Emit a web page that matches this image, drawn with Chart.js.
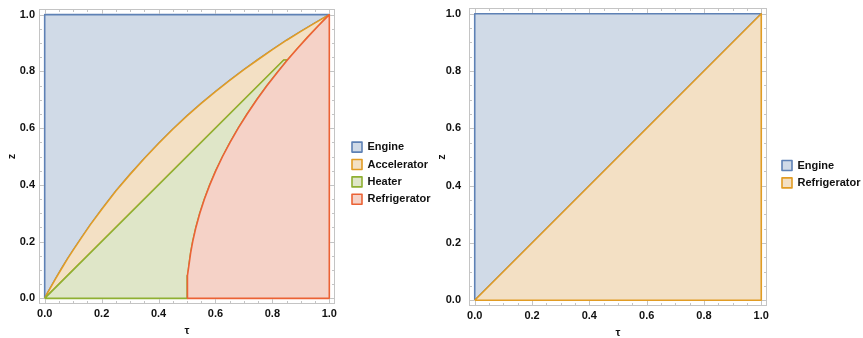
<!DOCTYPE html>
<html>
<head>
<meta charset="utf-8">
<script src="https://cdn.jsdelivr.net/npm/chart.js@4.4.1/dist/chart.umd.min.js"></script>
<style>
  html, body { margin: 0; padding: 0; background: #ffffff; }
  #c1 { position: absolute; left: 0; top: 0; }
  #c2 { position: absolute; left: 432px; top: 0; }
</style>
</head>
<body>
<canvas id="c1" width="432" height="338"></canvas>
<canvas id="c2" width="431" height="338"></canvas>
<script>
// ---------------- data ----------------
const tickValues = [0, 0.2, 0.4, 0.6, 0.8, 1.0];
const leftLabels = ['Engine', 'Accelerator', 'Heater', 'Refrigerator'];
const rightLabels = ['Engine', 'Refrigerator'];

// Left panel: upper (Accelerator/Engine) boundary curve, tau and z
const accelTau = [0, 0.01, 0.02, 0.04, 0.06, 0.08, 0.1, 0.13, 0.16, 0.2, 0.25, 0.3, 0.35, 0.4, 0.45, 0.5,
                  0.55, 0.6, 0.65, 0.7, 0.75, 0.8, 0.85, 0.9, 0.95, 1];
const accelZ   = [0, 0.019, 0.037, 0.072, 0.106, 0.139, 0.17, 0.215, 0.259, 0.313, 0.378, 0.437, 0.493, 0.546, 0.596, 0.643,
                  0.687, 0.729, 0.768, 0.806, 0.842, 0.877, 0.91, 0.941, 0.971, 1];
// Left panel: Refrigerator boundary curve, tau and z
const refrTau  = [0.5, 0.5002, 0.5013, 0.5032, 0.5072, 0.5128, 0.52, 0.5313, 0.545, 0.5613, 0.58, 0.6013, 0.625,
                  0.6513, 0.68, 0.7113, 0.745, 0.7813, 0.82, 0.8528, 0.8872, 0.9232, 0.9608, 1];
const refrZ    = [0, 0.02, 0.05, 0.08, 0.12, 0.16, 0.2, 0.25, 0.3, 0.35, 0.4, 0.45, 0.5,
                  0.55, 0.6, 0.65, 0.7, 0.75, 0.8, 0.84, 0.88, 0.92, 0.96, 1];
// Left panel: Heater diagonal ends where it meets the refrigerator curve
const heaterTip = [0.84, 0.84];
// Square corners of the (tau, z) domain
const cornerTau = [0, 0, 1, 1];
const cornerZ   = [0, 1, 1, 0];
// Right panel: dividing diagonal
const diagTau = [0, 1];
const diagZ   = [0, 1];

// ---------------- styles ----------------
const lineCol = { blue: '#5e81b5', orange: '#e19c24', green: '#8fb032', red: '#eb6235' };
const fillCol = { blue: '#d0dae7', orange: '#f3e0c4', green: '#dfe6c8', red: '#f5d2c7' };
const FONT = { family: '"Liberation Sans", Arial, sans-serif', size: 11, weight: 'bold' };

const P = (t, z) => ({ x: t, y: z });
const curve = (ts, zs) => ts.map((t, i) => P(t, zs[i]));

// ---------------- left panel polygons ----------------
const accel = curve(accelTau, accelZ);
const refr = curve(refrTau, refrZ);
const C = curve(cornerTau, cornerZ); // (0,0),(0,1),(1,1),(1,0)

const enginePoly = [C[0], C[1], C[2]].concat(accel.slice(0, -1).reverse());
const tipIdx = refrZ.indexOf(heaterTip[1]);
const accelPoly = accel.concat(refr.slice(tipIdx, -1).reverse(), [P(heaterTip[0], heaterTip[1]), C[0]]);
const heaterPoly = [C[0], P(heaterTip[0], heaterTip[1])].concat(refr.slice(0, tipIdx + 1).reverse(), [C[0]]);
const refrPoly = refr.concat([C[3], refr[0]]);

// ---------------- right panel polygons ----------------
const diag = curve(diagTau, diagZ);
const engineR = [C[0], C[1], C[2], diag[0]];
const refrR = [diag[0], diag[1], C[3], diag[0]];

function ds(label, data, col, order) {
  return {
    label, data, order,
    showLine: true, fill: 'shape', tension: 0,
    borderColor: lineCol[col], backgroundColor: fillCol[col],
    borderWidth: 1.6, pointRadius: 0, pointHoverRadius: 0,
    borderJoinStyle: 'round'
  };
}

// frame with inward ticks (Mathematica-style)
const frameTicks = {
  id: 'frameTicks',
  afterDatasetsDraw(chart) {
    const { ctx, chartArea: a, scales } = chart;
    const xs = scales.x, ys = scales.y;
    ctx.save();
    ctx.strokeStyle = '#c4c4c4';
    ctx.lineWidth = 1;
    ctx.strokeRect(a.left + 0.5, a.top + 0.5, a.width - 1, a.height - 1);
    ctx.beginPath();
    for (let k = 0; k <= 20; k++) {
      const v = k / 20;
      const len = (k % 4 === 0) ? 5 : 3;
      const px = Math.round(xs.getPixelForValue(v)) + 0.5;
      const py = Math.round(ys.getPixelForValue(v)) + 0.5;
      ctx.moveTo(px, a.bottom); ctx.lineTo(px, a.bottom - len);
      ctx.moveTo(px, a.top); ctx.lineTo(px, a.top + len);
      ctx.moveTo(a.left, py); ctx.lineTo(a.left + len, py);
      ctx.moveTo(a.right, py); ctx.lineTo(a.right - len, py);
    }
    ctx.stroke();
    ctx.restore();
  }
};

// place the legend where the reference has it
const legendPlace = {
  id: 'legendPlace',
  afterLayout(chart, args, opts) {
    const lg = chart.legend;
    if (!lg) return;
    const w = lg.right - lg.left, h = lg.bottom - lg.top;
    lg.left = opts.left; lg.right = opts.left + w;
    lg.top = opts.top; lg.bottom = opts.top + h;
  }
};

function makeChart(id, datasets, geo) {
  const cfg = {
    type: 'scatter',
    data: { datasets },
    options: {
      responsive: false,
      animation: false,
      events: [],
      layout: { padding: { left: 0, right: 10, top: geo.top, bottom: 0 } },
      plugins: {
        tooltip: { enabled: false },
        legend: {
          position: 'right',
          align: 'start',
          labels: {
            boxWidth: 10, boxHeight: 10, padding: 6.4,
            color: '#111', font: FONT,
            sort: (a, b) => a.datasetIndex - b.datasetIndex
          }
        },
        legendPlace: { left: geo.legLeft, top: geo.legTop }
      },
      scales: {
        x: {
          type: 'linear', min: -0.02, max: 1.02,
          afterBuildTicks: s => { s.ticks = tickValues.map(v => ({ value: v })); },
          afterFit: s => { s.height = geo.xh; },
          grid: { display: false, drawTicks: false },
          border: { display: false },
          ticks: { font: FONT, color: '#111', padding: 3, maxRotation: 0,
                   callback: v => Number(v).toFixed(1) },
          title: { display: true, text: 'τ', font: FONT, color: '#111', padding: { top: 0, bottom: geo.tbot } }
        },
        y: {
          type: 'linear', min: -0.02, max: 1.02,
          afterBuildTicks: s => { s.ticks = tickValues.map(v => ({ value: v })); },
          afterFit: s => { s.width = geo.yw; s.paddingTop = 0; s.paddingBottom = 0; },
          grid: { display: false, drawTicks: false },
          border: { display: false },
          ticks: { font: FONT, color: '#111', padding: geo.ypad,
                   callback: v => Number(v).toFixed(1) },
          title: { display: true, text: 'z', font: FONT, color: '#111', padding: { top: geo.ztop, bottom: 0 } }
        }
      }
    },
    plugins: [frameTicks, legendPlace]
  };
  const chart = new Chart(document.getElementById(id), cfg);
  const dx = chart.chartArea.right - geo.right;
  if (Math.abs(dx) > 0.3) {
    chart.config.options.layout.padding = { left: 0, right: 10 + dx, top: geo.top, bottom: 0 };
    chart.update();
  }
  return chart;
}

makeChart('c1', [
  ds(leftLabels[0], enginePoly, 'blue', 4),
  ds(leftLabels[1], accelPoly, 'orange', 3),
  ds(leftLabels[2], heaterPoly, 'green', 2),
  ds(leftLabels[3], refrPoly, 'red', 1)
], { top: 9, right: 335, xh: 34, yw: 39, ypad: 4, ztop: 5.4, tbot: 0.4, legLeft: 345.6, legTop: 135.2 });

makeChart('c2', [
  ds(rightLabels[0], engineR, 'blue', 2),
  ds(rightLabels[1], refrR, 'orange', 1)
], { top: 8, right: 335, xh: 32, yw: 37, ypad: 8, ztop: 3, tbot: -1.6, legLeft: 343.6, legTop: 153.6 });
</script>
</body>
</html>
